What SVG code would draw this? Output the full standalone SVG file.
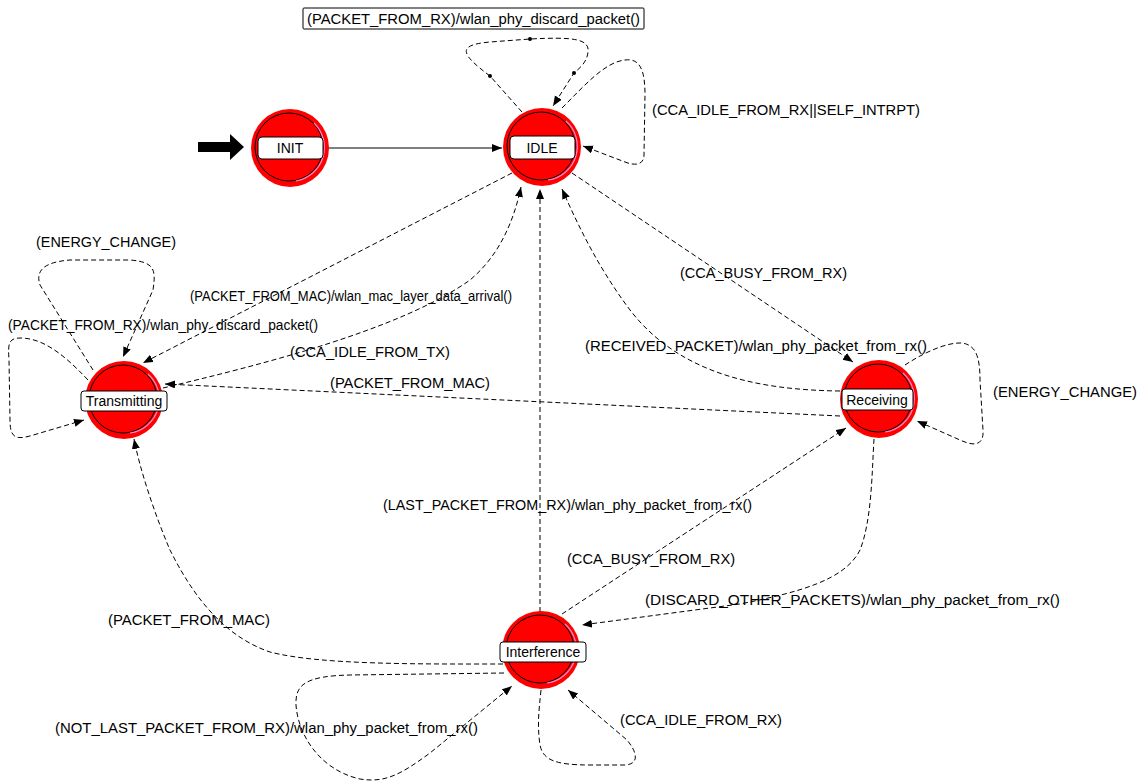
<svg xmlns="http://www.w3.org/2000/svg" width="1146" height="783" viewBox="0 0 1146 783">
<style>
.lbl{font-family:"Liberation Sans",Arial,sans-serif;font-size:14px;fill:#000}
.nl{font-family:"Liberation Sans",Arial,sans-serif;font-size:14px;fill:#000;text-anchor:middle}
.c{fill:none;stroke:#000;stroke-width:1;stroke-dasharray:5,3}
.s{fill:none;stroke:#000;stroke-width:1}
.ring{fill:#ff0000}
.in{fill:none;stroke:#000;stroke-width:1}
.pk{fill:none;stroke:#ff88cc;stroke-width:1.2}
.box{fill:#fff;stroke:#000;stroke-width:1}
</style>
<defs>
<marker id="ah" markerUnits="userSpaceOnUse" markerWidth="11" markerHeight="9" refX="10" refY="4" orient="auto">
<path d="M0,0 L10,4 L0,8 z" fill="#000"/>
</marker>
</defs>
<rect width="1146" height="783" fill="#fff"/>

<g id="connectors">
<path class="s" d="M328,148 L502,148" marker-end="url(#ah)"/>
<path class="c" stroke-dasharray="6,3,2,3" d="M522,112 L490,76 C462,55 455,45 490,42 L530,39 C570,37 590,38 588,52 C587,62 580,68 574,73 L553,106" marker-end="url(#ah)"/>
<circle cx="490" cy="76" r="2" fill="#000"/>
<circle cx="530" cy="39" r="2" fill="#000"/>
<circle cx="574" cy="73" r="2" fill="#000"/>
<path class="c" d="M562,108 C585,85 605,62 625,60 C640,58 645,70 645,95 L644,155 C644,165 635,166 625,162 L583,146" marker-end="url(#ah)"/>
<path class="c" d="M93,370 L40,285 C35,270 45,262 70,260 L130,260 C155,262 156,270 153,290 L123,357" marker-end="url(#ah)"/>
<path class="c" d="M88,380 C60,350 40,338 20,338 C8,338 8,345 9,360 L10,420 C10,437 15,440 30,436 L84,420" marker-end="url(#ah)"/>
<path class="c" d="M512,173 L143,363" marker-end="url(#ah)"/>
<path class="c" d="M163,388 C260,365 400,330 470,280 C500,255 514,220 521,187" marker-end="url(#ah)"/>
<path class="c" d="M840,416 L165,384" marker-end="url(#ah)"/>
<path class="c" d="M540,612 L540,189" marker-end="url(#ah)"/>
<path class="c" d="M572,173 L853,362" marker-end="url(#ah)"/>
<path class="c" d="M840,391 C760,390 680,375 630,310 C600,270 580,230 562,189" marker-end="url(#ah)"/>
<path class="c" d="M905,365 C920,355 945,342 962,343 C975,345 980,355 980,380 L983,430 C984,445 975,447 960,440 L917,421" marker-end="url(#ah)"/>
<path class="c" d="M874,439 C872,470 872,520 860,550 C845,580 800,592 740,604 L582,625" marker-end="url(#ah)"/>
<path class="c" d="M562,614 L846,428" marker-end="url(#ah)"/>
<path class="c" d="M503,664 C420,664 320,665 270,652 C220,635 190,590 170,550 C155,515 140,470 134,439" marker-end="url(#ah)"/>
<path class="c" d="M504,673 L350,675 C305,676 295,685 296,705 C298,735 320,770 360,779 C385,783 400,775 430,753 L512,686" marker-end="url(#ah)"/>
<path class="c" d="M541,690 C539,710 537,725 540,745 C543,760 555,765 590,765 L625,765 C640,764 637,752 627,740 L568,690" marker-end="url(#ah)"/>
</g>

<g id="labels">
<rect class="box" x="303" y="8" width="341" height="21" rx="1"/>
<text class="lbl" x="307" y="24" textLength="333" lengthAdjust="spacingAndGlyphs">(PACKET_FROM_RX)/wlan_phy_discard_packet()</text>
<text class="lbl" x="652" y="115" textLength="268" lengthAdjust="spacingAndGlyphs">(CCA_IDLE_FROM_RX||SELF_INTRPT)</text>
<text class="lbl" x="36" y="247" textLength="140" lengthAdjust="spacingAndGlyphs">(ENERGY_CHANGE)</text>
<text class="lbl" x="190" y="301" textLength="322" lengthAdjust="spacingAndGlyphs">(PACKET_FROM_MAC)/wlan_mac_layer_data_arrival()</text>
<text class="lbl" x="8" y="330" textLength="310" lengthAdjust="spacingAndGlyphs">(PACKET_FROM_RX)/wlan_phy_discard_packet()</text>
<text class="lbl" x="290" y="357" textLength="160" lengthAdjust="spacingAndGlyphs">(CCA_IDLE_FROM_TX)</text>
<text class="lbl" x="680" y="278" textLength="167" lengthAdjust="spacingAndGlyphs">(CCA_BUSY_FROM_RX)</text>
<text class="lbl" x="585" y="351" textLength="342" lengthAdjust="spacingAndGlyphs">(RECEIVED_PACKET)/wlan_phy_packet_from_rx()</text>
<text class="lbl" x="993" y="397" textLength="144" lengthAdjust="spacingAndGlyphs">(ENERGY_CHANGE)</text>
<text class="lbl" x="330" y="388" textLength="160" lengthAdjust="spacingAndGlyphs">(PACKET_FROM_MAC)</text>
<text class="lbl" x="383" y="510" textLength="369" lengthAdjust="spacingAndGlyphs">(LAST_PACKET_FROM_RX)/wlan_phy_packet_from_rx()</text>
<text class="lbl" x="567" y="564" textLength="168" lengthAdjust="spacingAndGlyphs">(CCA_BUSY_FROM_RX)</text>
<text class="lbl" x="645" y="605" textLength="415" lengthAdjust="spacingAndGlyphs">(DISCARD_OTHER_PACKETS)/wlan_phy_packet_from_rx()</text>
<text class="lbl" x="108" y="625" textLength="162" lengthAdjust="spacingAndGlyphs">(PACKET_FROM_MAC)</text>
<text class="lbl" x="55" y="733" textLength="423" lengthAdjust="spacingAndGlyphs">(NOT_LAST_PACKET_FROM_RX)/wlan_phy_packet_from_rx()</text>
<text class="lbl" x="620" y="725" textLength="162" lengthAdjust="spacingAndGlyphs">(CCA_IDLE_FROM_RX)</text>
</g>

<g id="init-arrow">
<path d="M198,142 L230,142 L230,134 L244,147 L230,160 L230,152 L198,152 z" fill="#000"/>
</g>

<g id="node-init">
<circle class="ring" cx="290" cy="148" r="39"/>
<circle class="in" cx="289" cy="147" r="34"/>
<path class="pk" d="M314,123 A34,34 0 0 1 296,181"/>
<rect class="box" x="258" y="137" width="65" height="22" rx="4"/>
<text class="nl" x="290" y="153">INIT</text>
</g>

<g id="node-idle">
<circle class="ring" cx="542" cy="147" r="39"/>
<circle class="in" cx="541" cy="146" r="34"/>
<path class="pk" d="M566,121 A34,34 0 0 1 548,180"/>
<rect class="box" x="510" y="136" width="65" height="23" rx="4"/>
<text class="nl" x="542" y="153">IDLE</text>
</g>

<g id="node-transmitting">
<circle class="ring" cx="124" cy="400" r="39"/>
<circle class="in" cx="123" cy="399" r="34"/>
<path class="pk" d="M148,374 A34,34 0 0 1 130,433"/>
<rect class="box" x="81" y="391" width="86" height="20" rx="3"/>
<text class="nl" x="124" y="406">Transmitting</text>
</g>

<g id="node-receiving">
<circle class="ring" cx="879" cy="399" r="39"/>
<circle class="in" cx="878" cy="398" r="34"/>
<path class="pk" d="M903,373 A34,34 0 0 1 885,432"/>
<rect class="box" x="842" y="389" width="71" height="21" rx="3"/>
<text class="nl" x="877" y="405">Receiving</text>
</g>

<g id="node-interference">
<circle class="ring" cx="541" cy="650" r="39"/>
<circle class="in" cx="540" cy="649" r="34"/>
<path class="pk" d="M565,624 A34,34 0 0 1 547,683"/>
<rect class="box" x="500" y="642" width="86" height="20" rx="3"/>
<text class="nl" x="543" y="657">Interference</text>
</g>
</svg>
